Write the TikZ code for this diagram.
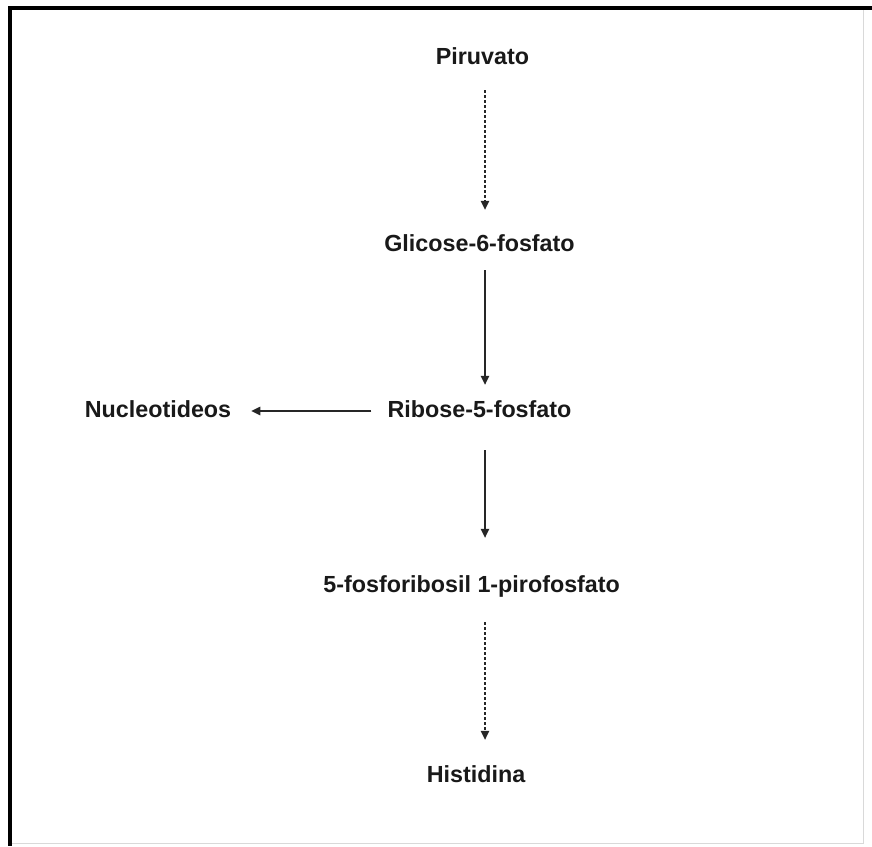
\documentclass[tikz,border=0pt]{standalone}
\usepackage{fontspec}
\setmainfont{Liberation Sans}
\usetikzlibrary{arrows.meta}
\begin{document}
\begin{tikzpicture}[x=1pt,y=-1pt,
  lbl/.style={anchor=base,inner sep=0pt,text height=17pt,text depth=5pt,
    font=\bfseries\fontsize{23.3}{27}\selectfont,text=black!90},
  conn/.style={line width=1.3pt,draw=black!85,-{Triangle[length=9pt,width=8.5pt]}},
  dotconn/.style={conn,dash pattern=on 3pt off 2pt}]
\useasboundingbox (0,0) rectangle (872,846);
\fill[white] (0,0) rectangle (872,846);
% frame
\draw[line width=4pt,black] (872,8) -- (10,8) -- (10,846);
\draw[line width=1pt,black!15] (863,10) -- (863,843) -- (12,843);
% nodes
\node[lbl] (piru) at (482.5,64) {Piruvato};
\node[lbl] (glic) at (479.5,251) {Glicose-6-fosfato};
\node[lbl] (ribo) at (479.5,417) {Ribose-5-fosfato};
\node[lbl] (nucl) at (158,417) {Nucleotideos};
\node[lbl] (prpp) at (471.7,592) {5-fosforibosil 1-pirofosfato};
\node[lbl] (hist) at (476,782) {Histidina};
\coordinate (axis) at (485,0);
% connectors
\draw[dotconn,shorten <=21pt,shorten >=24pt] (piru.south -| axis) -- (glic.north -| axis);
\draw[conn,shorten <=14pt,shorten >=15pt] (glic.south -| axis) -- (ribo.north -| axis);
\draw[conn,shorten <=16pt,shorten >=20pt] (ribo.west) -- (nucl.east |- ribo.west);
\draw[conn,shorten <=28pt,shorten >=37pt] (ribo.south -| axis) -- (prpp.north -| axis);
\draw[dotconn,shorten <=25pt,shorten >=25pt] (prpp.south -| axis) -- (hist.north -| axis);
\end{tikzpicture}
\end{document}
